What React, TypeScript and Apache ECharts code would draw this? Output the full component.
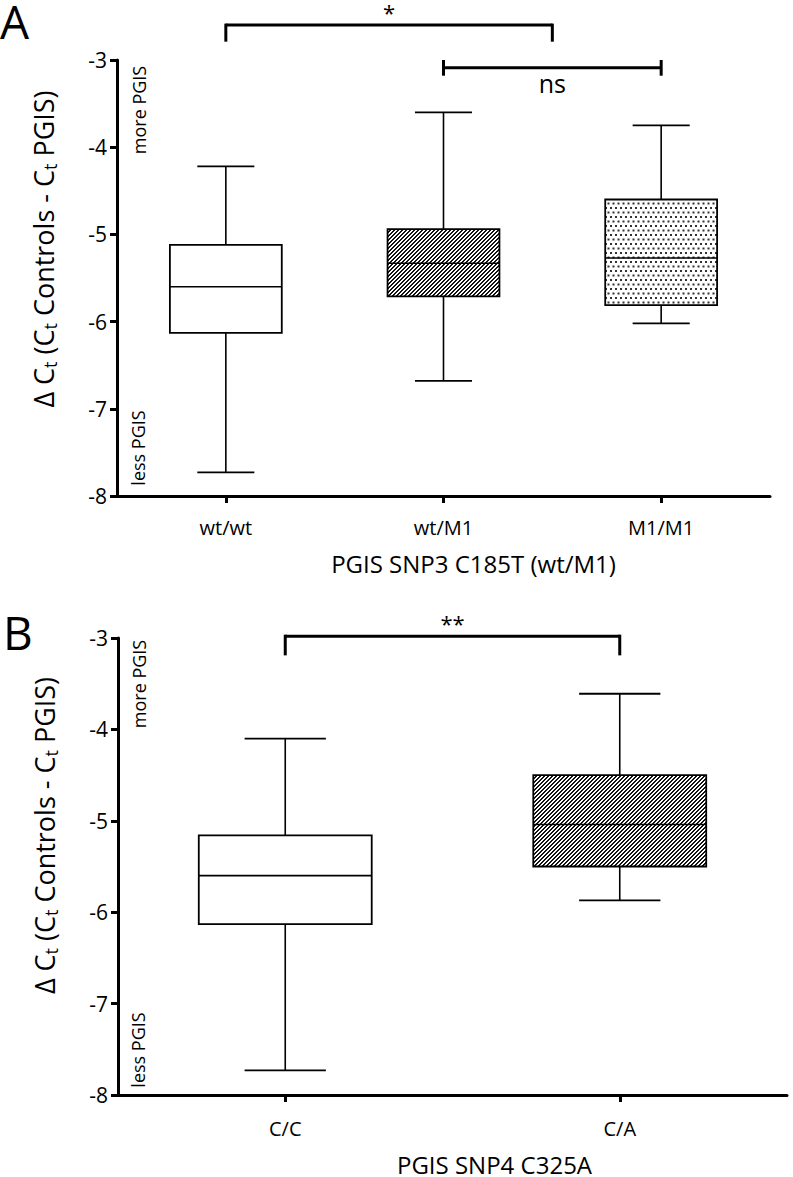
import React, { useEffect, useRef } from "react";
import * as echarts from "echarts";

const FONT = "'Open Sans', sans-serif";

// y axis ticks
const yMin = -8;
const yMax = -3;
const yStep = 1;

// Panel A
const catsA = ["wt/wt", "wt/M1", "M1/M1"];
// [min, Q1, median, Q3, max]
const boxA = [
  [-7.73, -6.13, -5.6, -5.12, -4.22],
  [-6.68, -5.71, -5.33, -4.94, -3.6],
  [-6.02, -5.81, -5.27, -4.6, -3.75],
];
const fillA = ["none", "hatch", "dots"];
const xNameA = "PGIS SNP3 C185T (wt/M1)";

// Panel B
const catsB = ["C/C", "C/A"];
const boxB = [
  [-7.73, -6.13, -5.6, -5.16, -4.1],
  [-5.87, -5.5, -5.04, -4.5, -3.61],
];
const fillB = ["none", "hatch"];
const xNameB = "PGIS SNP4 C325A";

// significance brackets: [fromCat, toCat, yLevel, legEnd]
const bracketA = [
  [0, 1.5, -2.6, -2.79],
  [1, 2, -3.09, -3.0],
];
const bracketLabelA = ["*", "ns"];
const bracketKindA = ["down", "caps"];
const bracketB = [[0, 1, -2.98, -3.19]];
const bracketLabelB = ["**"];
const bracketKindB = ["down"];

const yName = "{a|Δ C}{s|t}{a| (C}{s|t}{a| Controls - C}{s|t}{a| PGIS)}";

function makeHatch() {
  const c = document.createElement("canvas");
  c.width = 4;
  c.height = 4;
  const ctx = c.getContext("2d")!;
  ctx.fillStyle = "#fff";
  ctx.fillRect(0, 0, 4, 4);
  ctx.fillStyle = "#111";
  for (let r = 0; r < 4; r++) {
    ctx.fillRect((3 - r + 4) % 4, r, 1, 1);
    ctx.fillRect((4 - r + 4) % 4, r, 1, 1);
  }
  return c;
}

function makeDots() {
  const c = document.createElement("canvas");
  c.width = 5;
  c.height = 9;
  const ctx = c.getContext("2d")!;
  ctx.fillStyle = "#fff";
  ctx.fillRect(0, 0, 5, 9);
  ctx.fillStyle = "#333";
  ctx.fillRect(0, 0, 2, 2);
  ctx.fillRect(2.5, 4.5, 2, 2);
  return c;
}

function boxRenderer(fills: string[], patterns: Record<string, any>, boxFrac: number, capFrac: number) {
  return (params: any, api: any) => {
    const i = api.value(0);
    const mn = api.value(1);
    const q1 = api.value(2);
    const md = api.value(3);
    const q3 = api.value(4);
    const mx = api.value(5);
    const band = api.size([1, 0])[0];
    const half = (band * boxFrac) / 2;
    const cap = half * capFrac;
    const pMax = api.coord([i, mx]);
    const pQ3 = api.coord([i, q3]);
    const pMd = api.coord([i, md]);
    const pQ1 = api.coord([i, q1]);
    const pMin = api.coord([i, mn]);
    const cx = pMax[0];
    const fillKey = fills[params.dataIndex];
    const fill = fillKey === "none" ? "#fff" : patterns[fillKey];
    const ls = { stroke: "#000", lineWidth: 1.6 };
    return {
      type: "group",
      children: [
        { type: "line", shape: { x1: cx, y1: pMax[1], x2: cx, y2: pQ3[1] }, style: ls },
        { type: "line", shape: { x1: cx, y1: pQ1[1], x2: cx, y2: pMin[1] }, style: ls },
        { type: "line", shape: { x1: cx - cap, y1: pMax[1], x2: cx + cap, y2: pMax[1] }, style: { stroke: "#000", lineWidth: 1.8 } },
        { type: "line", shape: { x1: cx - cap, y1: pMin[1], x2: cx + cap, y2: pMin[1] }, style: { stroke: "#000", lineWidth: 1.8 } },
        {
          type: "rect",
          shape: { x: cx - half, y: pQ3[1], width: half * 2, height: pQ1[1] - pQ3[1] },
          style: { fill, stroke: "#000", lineWidth: 1.8 },
        },
        { type: "line", shape: { x1: cx - half, y1: pMd[1], x2: cx + half, y2: pMd[1] }, style: { stroke: "#000", lineWidth: 1.6 } },
      ],
    };
  };
}

function bracketRenderer(labels: string[], kinds: string[]) {
  return (params: any, api: any) => {
    const a = api.value(0);
    const b = api.value(1);
    const y = api.value(2);
    const e = api.value(3);
    const band = api.size([1, 0])[0];
    const base = api.coord([0, y]);
    const x0 = base[0] + a * band;
    const x1 = base[0] + b * band;
    const yl = base[1];
    const ye = api.coord([0, e])[1];
    const kind = kinds[params.dataIndex];
    const label = labels[params.dataIndex];
    const st = { stroke: "#000", lineWidth: 3 };
    const children: any[] = [{ type: "line", shape: { x1: x0, y1: yl, x2: x1, y2: yl }, style: st }];
    const mid = (x0 + x1) / 2;
    if (kind === "down") {
      children.push({ type: "line", shape: { x1: x0, y1: yl - 1.5, x2: x0, y2: ye }, style: st });
      children.push({ type: "line", shape: { x1: x1, y1: yl - 1.5, x2: x1, y2: ye }, style: st });
      children.push({
        type: "text",
        x: mid,
        y: yl - 13,
        style: { text: label, fill: "#000", font: `22px ${FONT}`, lineHeight: 14, align: "center", verticalAlign: "middle" },
      });
    } else {
      const h = Math.abs(ye - yl);
      children.push({ type: "line", shape: { x1: x0, y1: yl - h, x2: x0, y2: yl + h }, style: st });
      children.push({ type: "line", shape: { x1: x1, y1: yl - h, x2: x1, y2: yl + h }, style: st });
      children.push({
        type: "text",
        x: mid,
        y: yl + 3,
        style: { text: label, fill: "#000", font: `25px ${FONT}`, align: "center", verticalAlign: "top" },
      });
    }
    return { type: "group", children };
  };
}

function xAxisOf(cats: string[], gridIndex: number, name: string, labelMargin: number, nameGap: number, shift: number) {
  return {
    type: "category",
    gridIndex,
    data: cats,
    boundaryGap: true,
    axisLine: { show: true, lineStyle: { color: "#000", width: 3 } },
    axisTick: { show: true, alignWithLabel: true, length: 7, lineStyle: { color: "#000", width: 3 } },
    axisLabel: { color: "#000", fontSize: 20, fontFamily: FONT, margin: labelMargin },
    splitLine: { show: false },
    name,
    nameLocation: "middle",
    nameGap,
    nameTextStyle: { color: "#000", fontSize: 24, lineHeight: 22, fontFamily: FONT, padding: [0, 0, 0, shift * 2] },
  };
}

function yAxisOf(gridIndex: number, shift: number) {
  return {
    type: "value",
    gridIndex,
    min: yMin,
    max: yMax,
    interval: yStep,
    axisLine: { show: true, lineStyle: { color: "#000", width: 3 } },
    axisTick: { show: true, length: 7, lineStyle: { color: "#000", width: 3 } },
    axisLabel: { color: "#000", fontSize: 21, fontFamily: FONT, margin: 10 },
    splitLine: { show: false },
    name: yName,
    nameLocation: "middle",
    nameGap: 57,
    nameTextStyle: {
      color: "#000",
      fontFamily: FONT,
      padding: [0, 0, 0, shift * 2],
      rich: {
        a: { fontSize: 27, fontFamily: FONT, color: "#000", lineHeight: 34 },
        s: { fontSize: 18, fontFamily: FONT, color: "#000", lineHeight: 34, padding: [13, 0, 0, 0] },
      },
    },
  };
}

export default function App() {
  const ref = useRef<HTMLDivElement>(null);
  useEffect(() => {
    if (!ref.current) return;
    const chart = echarts.init(ref.current, undefined, { renderer: "svg" });
    const patterns = {
      hatch: { image: makeHatch(), repeat: "repeat", imageWidth: 4, imageHeight: 4 },
      dots: { image: makeDots(), repeat: "repeat", imageWidth: 5, imageHeight: 9 },
    };
    const sideText = (text: string, x: number, y: number) => ({
      type: "text",
      x,
      y,
      rotation: Math.PI / 2,
      style: { text, fill: "#000", font: `18px ${FONT}`, align: "center", verticalAlign: "middle" },
    });
    chart.setOption({
      animation: false,
      backgroundColor: "#fff",
      textStyle: { fontFamily: FONT },
      grid: [
        { left: 117, right: 23, top: 60, height: 436, containLabel: false },
        { left: 118, right: 6, top: 638, height: 460, containLabel: false },
      ],
      xAxis: [xAxisOf(catsA, 0, xNameA, 21, 56, 30), xAxisOf(catsB, 1, xNameB, 23, 58, 42)],
      yAxis: [yAxisOf(0, 29), yAxisOf(1, 31)],
      series: [
        {
          type: "custom",
          xAxisIndex: 0,
          yAxisIndex: 0,
          data: boxA.map((d, i) => [i, ...d]),
          encode: { x: 0, y: [1, 2, 3, 4, 5] },
          renderItem: boxRenderer(fillA, patterns, 0.514, 0.51),
        },
        {
          type: "custom",
          xAxisIndex: 1,
          yAxisIndex: 1,
          data: boxB.map((d, i) => [i, ...d]),
          encode: { x: 0, y: [1, 2, 3, 4, 5] },
          renderItem: boxRenderer(fillB, patterns, 0.517, 0.47),
        },
        {
          type: "custom",
          xAxisIndex: 0,
          yAxisIndex: 0,
          clip: false,
          data: bracketA,
          encode: { x: [0, 1], y: [2, 3] },
          renderItem: bracketRenderer(bracketLabelA, bracketKindA),
        },
        {
          type: "custom",
          xAxisIndex: 1,
          yAxisIndex: 1,
          clip: false,
          data: bracketB,
          encode: { x: [0, 1], y: [2, 3] },
          renderItem: bracketRenderer(bracketLabelB, bracketKindB),
        },
      ],
      graphic: [
        { type: "text", x: 0, y: 21, style: { text: "A", fill: "#000", font: `46px ${FONT}`, lineHeight: 40, verticalAlign: "middle" } },
        { type: "text", x: 3, y: 632, style: { text: "B", fill: "#000", font: `46px ${FONT}`, lineHeight: 40, verticalAlign: "middle" } },
        sideText("more PGIS", 139, 110),
        sideText("less PGIS", 138, 448),
        sideText("more PGIS", 139, 684),
        sideText("less PGIS", 138, 1050),
      ],
    });
    return () => chart.dispose();
  }, []);
  return (
    <div
      ref={ref}
      style={{ position: "absolute", left: 0, top: 0, width: 793, height: 1177, background: "#fff" }}
    />
  );
}
